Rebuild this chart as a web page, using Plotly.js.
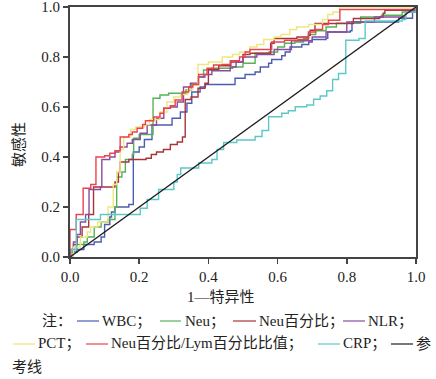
<!DOCTYPE html>
<html><head><meta charset="utf-8">
<script src="https://cdn.plot.ly/plotly-3.0.1.min.js"></script>
<style>html,body{margin:0;padding:0;background:#fff;}#chart{width:436px;height:379px;}</style>
</head><body><div id="chart"></div>
<script>
// ---- data (1-specificity, sensitivity) ----
const wbcX = [0,0,0.02,0.04,0.07,0.09,0.10,0.115,0.12,0.13,0.17,0.183,0.20,0.215,0.237,0.295,0.319,0.338,0.352,0.376,0.391,0.477,0.506,0.535,0.55,0.574,0.583,0.612,0.622,0.636,0.67,0.69,0.70,0.74,0.745,0.81,0.815,0.94,0.95,0.99,1];
const wbcY = [0,0.02,0.03,0.05,0.06,0.08,0.13,0.16,0.18,0.20,0.21,0.42,0.44,0.47,0.528,0.555,0.58,0.615,0.66,0.68,0.69,0.715,0.73,0.74,0.76,0.775,0.79,0.805,0.82,0.84,0.85,0.86,0.87,0.875,0.90,0.905,0.94,0.94,0.955,0.99,1];

const neuX = [0,0.005,0.02,0.04,0.05,0.07,0.09,0.11,0.13,0.135,0.15,0.16,0.18,0.184,0.20,0.24,0.26,0.285,0.335,0.35,0.37,0.386,0.41,0.47,0.50,0.535,0.575,0.60,0.62,0.65,0.675,0.69,0.71,0.74,0.77,0.84,0.90,0.96,0.99,1];
const neuY = [0,0.03,0.05,0.06,0.08,0.12,0.14,0.15,0.20,0.32,0.34,0.39,0.41,0.475,0.49,0.635,0.648,0.655,0.668,0.69,0.72,0.748,0.755,0.76,0.775,0.815,0.82,0.84,0.855,0.86,0.875,0.89,0.905,0.92,0.935,0.96,0.967,0.98,0.987,1];

const neuPctX = [0,0,0.01,0.02,0.035,0.054,0.068,0.13,0.14,0.145,0.17,0.22,0.235,0.25,0.27,0.29,0.31,0.325,0.333,0.35,0.37,0.39,0.40,0.43,0.465,0.50,0.52,0.58,0.59,0.656,0.689,0.694,0.708,0.819,0.895,0.905,0.91,1];
const neuPctY = [0,0.02,0.05,0.08,0.12,0.17,0.28,0.30,0.34,0.38,0.39,0.395,0.41,0.42,0.43,0.45,0.46,0.48,0.63,0.64,0.675,0.695,0.75,0.765,0.78,0.81,0.815,0.855,0.874,0.88,0.887,0.907,0.934,0.954,0.96,0.975,0.987,1];

const nlrX = [0,0,0.01,0.02,0.03,0.045,0.055,0.088,0.092,0.115,0.13,0.145,0.165,0.18,0.203,0.223,0.25,0.271,0.29,0.31,0.328,0.348,0.37,0.39,0.41,0.463,0.48,0.50,0.54,0.59,0.64,0.70,0.74,0.80,0.88,0.97,1];
const nlrY = [0,0.03,0.06,0.09,0.14,0.17,0.27,0.28,0.39,0.40,0.42,0.44,0.455,0.47,0.495,0.528,0.555,0.595,0.60,0.62,0.68,0.695,0.72,0.73,0.745,0.76,0.78,0.80,0.81,0.83,0.865,0.88,0.90,0.94,0.96,0.98,1];

const pctX = [0,0.01,0.03,0.05,0.06,0.08,0.11,0.125,0.135,0.145,0.155,0.175,0.19,0.215,0.23,0.26,0.28,0.30,0.32,0.34,0.355,0.37,0.40,0.44,0.47,0.49,0.52,0.54,0.56,0.59,0.61,0.635,0.655,0.69,0.73,0.745,0.76,0.78,1];
const pctY = [0,0.04,0.08,0.10,0.12,0.14,0.20,0.29,0.34,0.43,0.48,0.51,0.52,0.53,0.55,0.58,0.62,0.64,0.65,0.67,0.69,0.77,0.78,0.80,0.81,0.82,0.84,0.85,0.87,0.88,0.89,0.91,0.92,0.93,0.95,0.97,0.98,1,1];

const ratioX = [0,0,0.018,0.038,0.06,0.075,0.10,0.115,0.13,0.145,0.17,0.18,0.194,0.21,0.218,0.242,0.26,0.271,0.29,0.304,0.324,0.343,0.355,0.372,0.396,0.415,0.44,0.463,0.49,0.506,0.52,0.583,0.62,0.66,0.689,0.71,0.73,0.747,0.78,1];
const ratioY = [0,0.11,0.17,0.275,0.29,0.40,0.405,0.415,0.425,0.48,0.49,0.50,0.515,0.53,0.545,0.56,0.575,0.595,0.605,0.628,0.66,0.68,0.69,0.73,0.755,0.768,0.77,0.785,0.80,0.82,0.83,0.86,0.867,0.87,0.90,0.91,0.93,0.947,0.99,1];

const crpX = [0,0.005,0.018,0.088,0.203,0.223,0.256,0.30,0.31,0.32,0.372,0.41,0.425,0.444,0.482,0.535,0.555,0.574,0.612,0.631,0.651,0.684,0.704,0.723,0.742,0.759,0.776,0.797,0.835,0.853,0.96,0.97,1];
const crpY = [0,0.03,0.15,0.17,0.195,0.23,0.27,0.30,0.33,0.356,0.376,0.39,0.43,0.458,0.468,0.482,0.506,0.561,0.575,0.585,0.601,0.608,0.631,0.644,0.665,0.71,0.734,0.867,0.874,0.944,0.95,0.98,1];

const refX = [0,1];
const refY = [0,1];

const seriesNames = ['WBC','Neu','Neu百分比','NLR','PCT','Neu百分比/Lym百分比比值','CRP','参考线'];
const seriesColors = ['#4d5db0','#55b257','#a8343a','#8c4b9e','#eee67e','#e9434c','#5cc8c8','#1e1e1e'];
const tickVals = [0,0.2,0.4,0.6,0.8,1.0];
const xTitle = '1—特异性';
const yTitle = '敏感性';

// ---- layout helpers ----
const FONT = "'Times New Roman', 'Liberation Serif', 'DejaVu Serif', 'Noto Sans CJK SC', serif";
const W = 436, H = 379, ML = 70, MR = 20, MT = 7, MB = 122;
const PW = W - ML - MR, PH = H - MT - MB;
const px = v => (v - ML) / PW;
const py = v => (H - MB - v) / PH;

const seriesData = [[wbcX,wbcY],[neuX,neuY],[neuPctX,neuPctY],[nlrX,nlrY],[pctX,pctY],[ratioX,ratioY],[crpX,crpY]];
const traces = seriesData.map((d,i) => ({
  x: d[0], y: d[1], type: 'scatter', mode: 'lines', name: seriesNames[i],
  line: {shape: 'hv', width: 1.4, color: seriesColors[i]}, hoverinfo: 'skip', showlegend: false
}));
traces.push({x: refX, y: refY, type: 'scatter', mode: 'lines', name: seriesNames[7],
  line: {width: 1.4, color: seriesColors[7]}, hoverinfo: 'skip', showlegend: false});

const axisCommon = {
  range: [0,1], tickvals: tickVals, tickformat: '.1f', showgrid: false, zeroline: false,
  showline: true, mirror: true, linecolor: '#444', linewidth: 2,
  ticks: 'outside', ticklen: 5, tickwidth: 1.5, tickcolor: '#444', ticklabeloverflow: 'allow',
  tickfont: {family: FONT, size: 15, color: '#222'}, fixedrange: true
};

const LF = {family: FONT, size: 15, color: '#222'};
const ann = (text, x, y, extra) => Object.assign({text, x: px(x), y: py(y), xref: 'paper', yref: 'paper',
  xanchor: 'left', yanchor: 'middle', showarrow: false, font: LF}, extra || {});

const annotations = [
  ann(xTitle, 221, 297, {xanchor: 'center'}),
  ann(yTitle, 19, 145, {xanchor: 'center', textangle: -90}),
  ann('注：', 40, 321),
  ann(seriesNames[0] + '；', 100, 321),
  ann(seriesNames[1] + '；', 183, 321),
  ann(seriesNames[2] + '；', 257, 321),
  ann(seriesNames[3] + '；', 366, 321),
  ann(seriesNames[4] + '；', 36, 344),
  ann(seriesNames[5] + '；', 109, 344),
  ann(seriesNames[6] + '；', 341, 344),
  ann('参', 414, 344),
  ann('考线', 10, 367)
];

const legendLines = [[77,99,321,0],[160,181,321,1],[233,256,321,2],[343,365,321,3],
  [13,35,344,4],[86,108,344,5],[318,340,344,6],[391,413,344,7]];
const shapes = legendLines.map(l => ({type: 'line', xref: 'paper', yref: 'paper',
  x0: px(l[0]), x1: px(l[1]), y0: py(l[2]), y1: py(l[2]),
  line: {color: seriesColors[l[3]], width: 1.2}}));

const layout = {
  width: W, height: H, margin: {l: ML, r: MR, t: MT, b: MB, pad: 0},
  paper_bgcolor: '#fff', plot_bgcolor: '#fff',
  font: {family: FONT, size: 14, color: '#222'},
  xaxis: Object.assign({}, axisCommon),
  yaxis: Object.assign({}, axisCommon),
  annotations, shapes, showlegend: false
};

Plotly.newPlot('chart', traces, layout, {staticPlot: true, displayModeBar: false});
</script>
</body></html>
